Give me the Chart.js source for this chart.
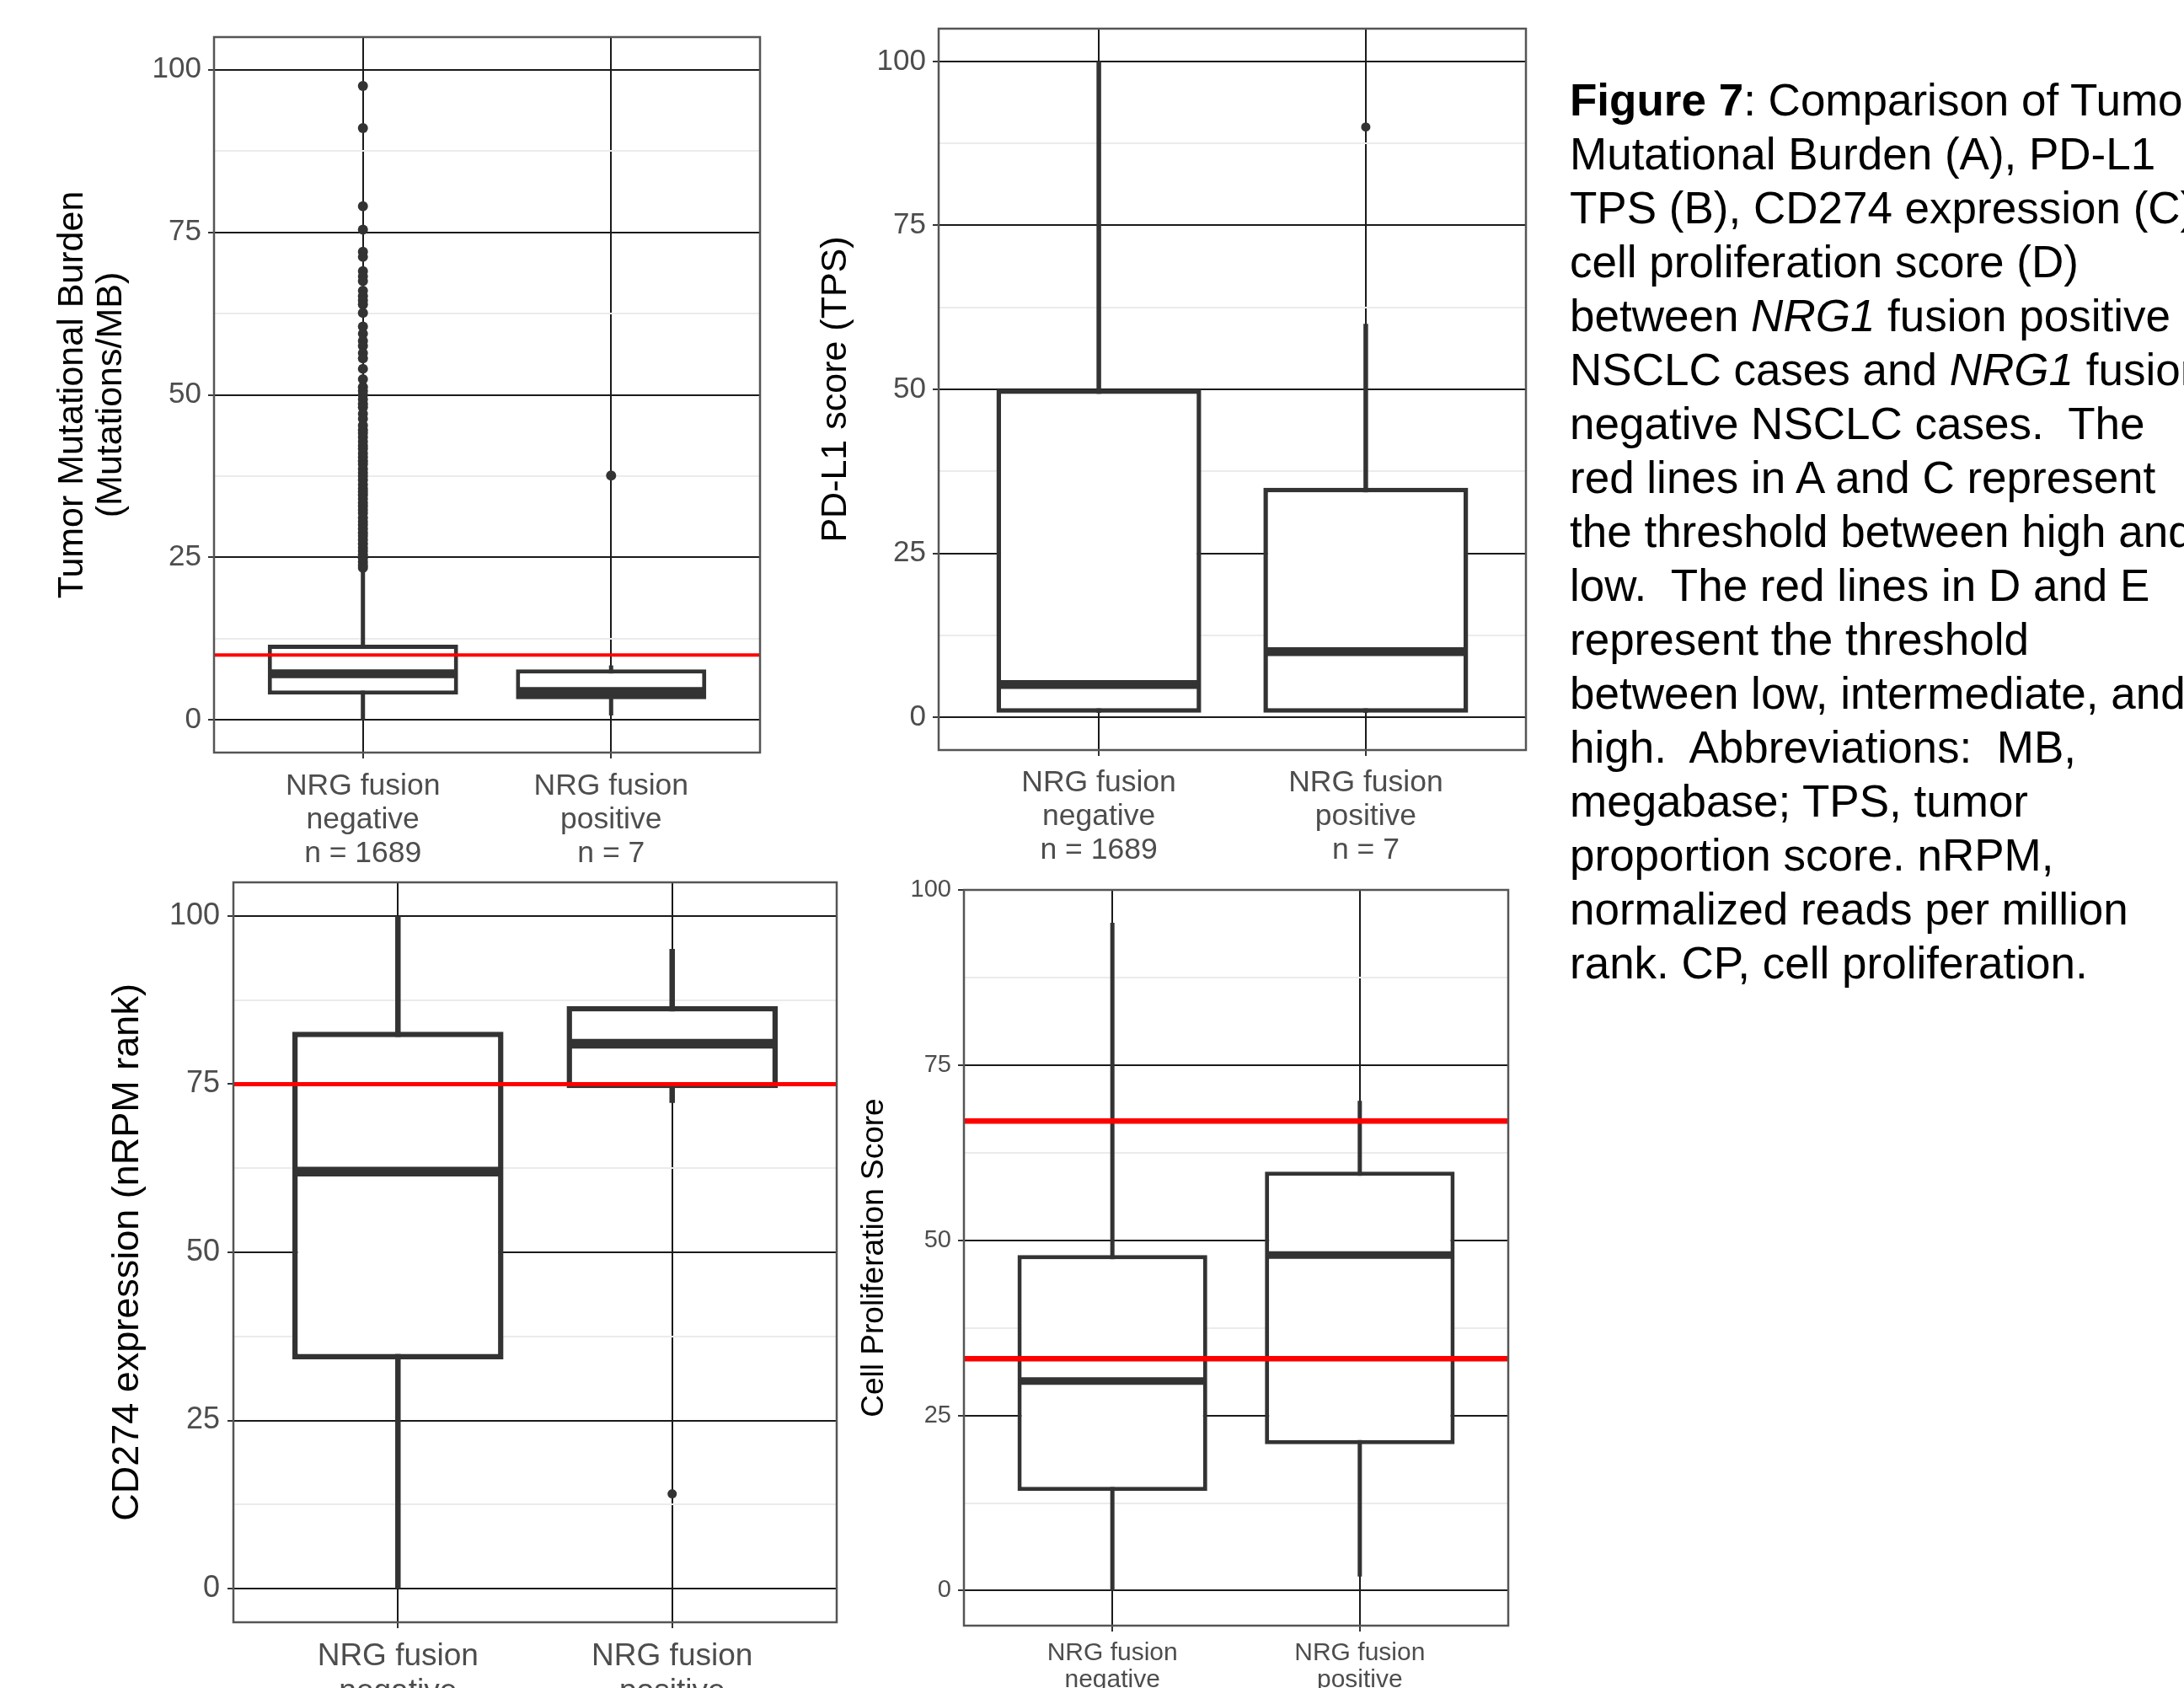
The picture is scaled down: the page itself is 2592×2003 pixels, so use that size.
<!DOCTYPE html>
<html>
<head>
<meta charset="utf-8">
<script src="https://cdn.jsdelivr.net/npm/chart.js@4.4.1/dist/chart.umd.min.js"></script>
<style>
  html, body { margin: 0; padding: 0; background: #fff; }
  body { width: 2592px; height: 2003px; position: relative; overflow: hidden;
         font-family: "Liberation Sans", Arial, sans-serif; }
  canvas { position: absolute; }
  #caption { position: absolute; left: 1863px; top: 87px; font-size: 53px; line-height: 64px;
             white-space: pre; color: #000; }
</style>
</head>
<body>
<canvas id="chartA" width="960" height="1040" style="left:0px;top:2px"></canvas>
<canvas id="chartB" width="930" height="1040" style="left:920px;top:2px"></canvas>
<canvas id="chartC" width="1040" height="1003" style="left:0px;top:1002px"></canvas>
<canvas id="chartD" width="830" height="1003" style="left:1000px;top:1002px"></canvas>
<div id="caption"><b>Figure 7</b>: Comparison of Tumor
Mutational Burden (A), PD-L1
TPS (B), CD274 expression (C),
cell proliferation score (D)
between <i>NRG1</i> fusion positive
NSCLC cases and <i>NRG1</i> fusion
negative NSCLC cases.  The
red lines in A and C represent
the threshold between high and
low.  The red lines in D and E
represent the threshold
between low, intermediate, and
high.  Abbreviations:  MB,
megabase; TPS, tumor
proportion score. nRPM,
normalized reads per million
rank. CP, cell proliferation.</div>
<script>
// groups on the x axis
const groupNames = ["negative", "positive"];
const groupCounts = ["n = 1689", "n = 7"];
const majorTicks = [0, 25, 50, 75, 100];
const minorTicks = [12.5, 37.5, 62.5, 87.5];

// A: tumor mutational burden (mutations/MB)
const tmbLower = [0, 0.7];
const tmbQ1 = [3.9, 3.2];
const tmbMedian = [7.1, 4.4];
const tmbQ3 = [11.6, 7.8];
const tmbUpper = [23.4, 8.4];
const tmbOutliersNeg = [97.5, 91.0, 79.0, 75.4, 72.0, 71.2, 69.0, 68.2, 67.5, 66.0, 65.2, 64.5,
  63.9, 62.6, 60.5, 59.4, 58.3, 57.5, 56.4, 55.6, 54.0, 52.4, 51.2, 50.6, 50.0, 49.3, 48.6, 48.1,
  47.1, 46.3, 45.3, 44.6, 44.1, 43.5, 42.8, 42.2, 41.7, 41.0, 40.4, 39.8, 39.3, 38.6, 38.0, 37.5,
  36.9, 36.2, 35.6, 35.1, 34.6, 34.0, 33.4, 32.9, 32.3, 31.8, 31.1, 30.5, 30.0, 29.4, 28.8, 28.3,
  27.7, 27.1, 26.5, 26.0, 25.4, 24.9, 24.3, 23.8, 23.4];
const tmbOutliersPos = [37.6];
const tmbCutoffs = [10];

// B: PD-L1 TPS
const tpsLower = [0.7, 0.7];
const tpsQ1 = [0.7, 0.7];
const tpsMedian = [5, 10];
const tpsQ3 = [50, 35];
const tpsUpper = [100, 60];
const tpsOutliersNeg = [];
const tpsOutliersPos = [90];
const tpsCutoffs = [];

// C: CD274 expression (nRPM rank)
const cdLower = [0, 72.2];
const cdQ1 = [34.1, 74.4];
const cdMedian = [62.0, 81.0];
const cdQ3 = [82.8, 86.6];
const cdUpper = [100, 95.1];
const cdOutliersNeg = [];
const cdOutliersPos = [14.1];
const cdCutoffs = [75];

// D: cell proliferation score
const cpLower = [0, 2.0];
const cpQ1 = [14.2, 20.9];
const cpMedian = [29.9, 47.9];
const cpQ3 = [47.9, 59.8];
const cpUpper = [95.3, 69.9];
const cpOutliersNeg = [];
const cpOutliersPos = [];
const cpCutoffs = [67, 33.1];

const DARK = "#333333";
const X_MIN = 0.4, X_MAX = 2.6;
const BOX_WIDTH = 0.75;
const FONT = "'Liberation Sans', Arial, sans-serif";

// draws the grey frame round the plot area, on top like ggplot
const panelBorder = {
  id: "panelBorder",
  afterDatasetsDraw(chart) {
    const { ctx, chartArea: a } = chart;
    ctx.save();
    ctx.strokeStyle = "#555555";
    ctx.lineWidth = 2.5;
    ctx.strokeRect(a.left, a.top, a.right - a.left, a.bottom - a.top);
    ctx.restore();
  },
};

function boxPanel(canvasId, p) {
  const canvas = document.getElementById(canvasId);
  // Chart.js strokes bar borders inside the bar, so widen by one line width
  const plotW = canvas.width - p.padding.left - p.padding.right - p.yWidth;
  const unitPx = plotW / (X_MAX - X_MIN);

  const datasets = [];
  p.cutoffs.forEach((v) => {
    datasets.push({
      type: "line", order: 0,
      data: [{ x: X_MIN, y: v }, { x: X_MAX, y: v }],
      borderColor: "#ff0000", borderWidth: p.cutoffWidth, pointRadius: 0, borderCapStyle: "butt", fill: false,
    });
  });
  const pts = [];
  p.outliers.forEach((arr, i) => arr.forEach((v) => pts.push({ x: i + 1, y: v })));
  datasets.push({
    type: "scatter", order: 1, data: pts,
    pointRadius: p.dot, backgroundColor: DARK, borderWidth: 0,
  });
  p.median.forEach((m, i) => {
    datasets.push({
      type: "line", order: 2,
      data: [{ x: i + 1 - BOX_WIDTH / 2, y: m }, { x: i + 1 + BOX_WIDTH / 2, y: m }],
      borderColor: DARK, borderWidth: p.medianWidth, pointRadius: 0, borderCapStyle: "butt", fill: false,
    });
  });
  datasets.push({
    type: "bar", order: 3,
    data: p.q1.map((q, i) => ({ x: i + 1, y: [q, p.q3[i]] })),
    backgroundColor: "#ffffff", borderColor: DARK, borderWidth: p.lineWidth, borderSkipped: false,
    barPercentage: BOX_WIDTH + p.lineWidth / unitPx, categoryPercentage: 1,
  });
  p.lower.forEach((lo, i) => {
    datasets.push({
      type: "line", order: 4,
      data: [{ x: i + 1, y: lo }, { x: i + 1, y: p.upper[i] }],
      borderColor: DARK, borderWidth: p.lineWidth, pointRadius: 0, borderCapStyle: "butt", fill: false,
    });
  });

  return new Chart(canvas, {
    type: "bar",
    data: { datasets: datasets },
    plugins: [panelBorder],
    options: {
      responsive: false,
      animation: false,
      events: [],
      layout: { padding: p.padding },
      plugins: { legend: { display: false }, tooltip: { enabled: false } },
      scales: {
        x: {
          type: "linear", min: X_MIN, max: X_MAX, offset: false,
          afterBuildTicks: (ax) => { ax.ticks = p.xLabels.map((_, i) => ({ value: i + 1 })); },
          afterFit: (ax) => { ax.height = p.xHeight; },
          ticks: {
            autoSkip: false, maxRotation: 0, padding: p.xPad, color: "#4d4d4d",
            font: { family: FONT, size: p.xFont, lineHeight: p.xLine },
            callback: (v) => p.xLabels[v - 1],
          },
          grid: { color: "#1a1a1a", lineWidth: 2, tickLength: 7, tickColor: DARK, offset: false },
          border: { display: false },
        },
        y: {
          min: p.yMin, max: p.yMax,
          afterBuildTicks: (ax) => {
            ax.ticks = majorTicks.concat(minorTicks).sort((a, b) => a - b).map((v) => ({ value: v }));
          },
          afterFit: (ax) => { ax.width = p.yWidth; },
          ticks: {
            autoSkip: false, padding: p.yPad, color: "#4d4d4d",
            font: { family: FONT, size: p.yFont },
            callback: (v) => (majorTicks.includes(v) ? String(v) : ""),
          },
          grid: {
            lineWidth: 2, tickLength: 7,
            color: (c) => (majorTicks.includes(c.tick.value) ? "#1a1a1a" : "#ebebeb"),
            tickColor: (c) => (majorTicks.includes(c.tick.value) ? DARK : "rgba(0,0,0,0)"),
          },
          border: { display: false },
          title: {
            display: true, text: p.yTitle, color: "#000000",
            font: { family: FONT, size: p.titleFont, lineHeight: 1.07 },
            padding: { top: p.titlePad, bottom: 0 },
          },
        },
      },
    },
  });
}

const labelsWithN = groupNames.map((g, i) => ["NRG fusion", g, groupCounts[i]]);
const labelsShort = groupNames.map((g) => ["NRG fusion", g]);

boxPanel("chartA", {
  lower: tmbLower, q1: tmbQ1, median: tmbMedian, q3: tmbQ3, upper: tmbUpper,
  outliers: [tmbOutliersNeg, tmbOutliersPos], cutoffs: tmbCutoffs,
  yTitle: ["Tumor Mutational Burden", "(Mutations/MB)"], xLabels: labelsWithN,
  yMin: -5, yMax: 105,
  padding: { top: 42, right: 58, bottom: 0, left: 0 }, yWidth: 254, xHeight: 149,
  titleFont: 43, titlePad: 63, yFont: 35, yPad: 8, xFont: 35.5, xLine: 1.127, xPad: 13,
  lineWidth: 5, medianWidth: 10.5, cutoffWidth: 4, dot: 6,
});

boxPanel("chartB", {
  lower: tpsLower, q1: tpsQ1, median: tpsMedian, q3: tpsQ3, upper: tpsUpper,
  outliers: [tpsOutliersNeg, tpsOutliersPos], cutoffs: tpsCutoffs,
  yTitle: "PD-L1 score (TPS)", xLabels: labelsWithN,
  yMin: -5, yMax: 105,
  padding: { top: 32, right: 39, bottom: 0, left: 0 }, yWidth: 194, xHeight: 152,
  titleFont: 43, titlePad: 49, yFont: 35, yPad: 8, xFont: 35.5, xLine: 1.127, xPad: 12,
  lineWidth: 5.5, medianWidth: 10.5, cutoffWidth: 4, dot: 5.5,
});

boxPanel("chartC", {
  lower: cdLower, q1: cdQ1, median: cdMedian, q3: cdQ3, upper: cdUpper,
  outliers: [cdOutliersNeg, cdOutliersPos], cutoffs: cdCutoffs,
  yTitle: "CD274 expression (nRPM rank)", xLabels: labelsShort,
  yMin: -5, yMax: 105,
  padding: { top: 45, right: 47, bottom: 0, left: 0 }, yWidth: 277, xHeight: 80,
  titleFont: 45, titlePad: 128, yFont: 36, yPad: 9, xFont: 37, xLine: 1.127, xPad: 13,
  lineWidth: 6.5, medianWidth: 11.5, cutoffWidth: 5, dot: 5.5,
});

boxPanel("chartD", {
  lower: cpLower, q1: cpQ1, median: cpMedian, q3: cpQ3, upper: cpUpper,
  outliers: [cpOutliersNeg, cpOutliersPos], cutoffs: cpCutoffs,
  yTitle: "Cell Proliferation Score", xLabels: labelsShort,
  yMin: -5, yMax: 100,
  padding: { top: 54, right: 40, bottom: 0, left: 0 }, yWidth: 144, xHeight: 76,
  titleFont: 37, titlePad: 18, yFont: 29, yPad: 8, xFont: 30, xLine: 1.07, xPad: 10,
  lineWidth: 5, medianWidth: 9, cutoffWidth: 6.5, dot: 5.5,
});
</script>
</body>
</html>
